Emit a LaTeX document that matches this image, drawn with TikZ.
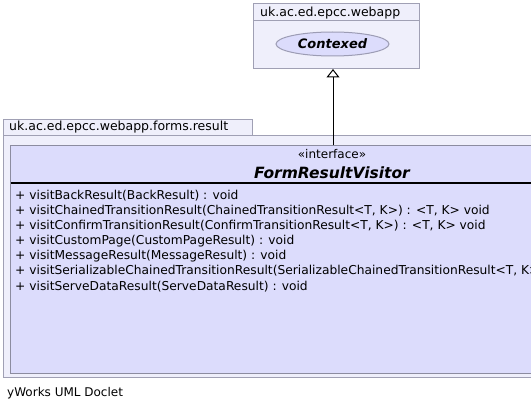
\documentclass[tikz,border=0pt]{standalone}
\usepackage{fontspec}
\setmainfont{DejaVu Sans}
\usetikzlibrary{arrows.meta,shapes.geometric}
\definecolor{pkgfill}{HTML}{EFEFFB}
\definecolor{pkgline}{HTML}{A0A0B4}
\definecolor{clsfill}{HTML}{DCDCFC}
\definecolor{clsline}{HTML}{8C8CA0}
\definecolor{ellline}{HTML}{9C9CB4}
\begin{document}
\begin{tikzpicture}[x=1pt,y=-1pt,
  pkg/.style={draw=pkgline, fill=pkgfill, line width=1pt, inner sep=0pt, outer sep=0pt, anchor=north west},
  cls/.style={draw=clsline, fill=clsfill, line width=1pt, inner sep=0pt, outer sep=0pt, anchor=north west},
  ell/.style={draw=ellline, fill=clsfill, line width=1pt, ellipse, inner sep=0pt},
  lbl/.style={inner sep=0pt, anchor=base west, font=\fontsize{12.5}{15}\selectfont},
  meth/.style={inner sep=0pt, anchor=base west, font=\fontsize{12.25}{14}\selectfont},
  conn/.style={line width=1pt, draw=black}
]
\useasboundingbox (0,0) rectangle (531,420);
\clip (0,0) rectangle (531,420);
\fill[white] (0,0) rectangle (531,420);
% top package
\node[pkg, minimum width=166pt, minimum height=17.5pt] (toptab) at (253.5,3.5) {};
\node[pkg, minimum width=166pt, minimum height=48pt] (toppkg) at (253.5,21) {};
\node[lbl] (toplbl) at (260,16.5) {uk.ac.ed.epcc.webapp};
\node[ell, minimum width=113pt, minimum height=24pt] (ctx) at (332.5,44)
  {\fontsize{13}{15}\selectfont\bfseries\itshape Contexed};
% bottom package
\node[pkg, minimum width=249pt, minimum height=16.5pt] (bottab) at (3.5,119.5) {};
\node[pkg, minimum width=560pt, minimum height=241pt] (botpkg) at (3.5,136) {};
\node[lbl] (botlbl) at (9,131) {uk.ac.ed.epcc.webapp.forms.result};
% interface
\node[cls, minimum width=560pt, minimum height=228pt] (iface) at (10.5,145.5) {};
\coordinate (sepl) at (10.5,183);
\draw[line width=2pt, black] (sepl) -- ++(560,0);
\node[inner sep=0pt, font=\fontsize{12}{14}\selectfont] (stereo) at (332,154) {«interface»};
\node[inner sep=0pt, font=\fontsize{15.5}{18}\selectfont\bfseries\itshape] (title) at (332,172.5) {FormResultVisitor};
\node[meth] (m1) at (15,199) {+ visitBackResult(BackResult) : void};
\node[meth] (m2) at (15,214.2) {+ visitChainedTransitionResult(ChainedTransitionResult<T, K>) : <T, K> void};
\node[meth] (m3) at (15,229.3) {+ visitConfirmTransitionResult(ConfirmTransitionResult<T, K>) : <T, K> void};
\node[meth] (m4) at (15,244.5) {+ visitCustomPage(CustomPageResult) : void};
\node[meth] (m5) at (15,259.7) {+ visitMessageResult(MessageResult) : void};
\node[meth] (m6) at (15,274.8) {+ visitSerializableChainedTransitionResult(SerializableChainedTransitionResult<T, K>) : <T, K> void};
\node[meth] (m7) at (15,290) {+ visitServeDataResult(ServeDataResult) : void};
% generalization
\coordinate (ifacetop) at (333,145.5);
\draw[conn, -{Triangle[length=8.5pt,width=13pt,fill=white]}] (ifacetop) -- (ifacetop |- toppkg.south);
% footer
\node[inner sep=0pt, anchor=base west, font=\fontsize{12}{14}\selectfont] (footer) at (7,396.5) {yWorks UML Doclet};
\end{tikzpicture}
\end{document}
